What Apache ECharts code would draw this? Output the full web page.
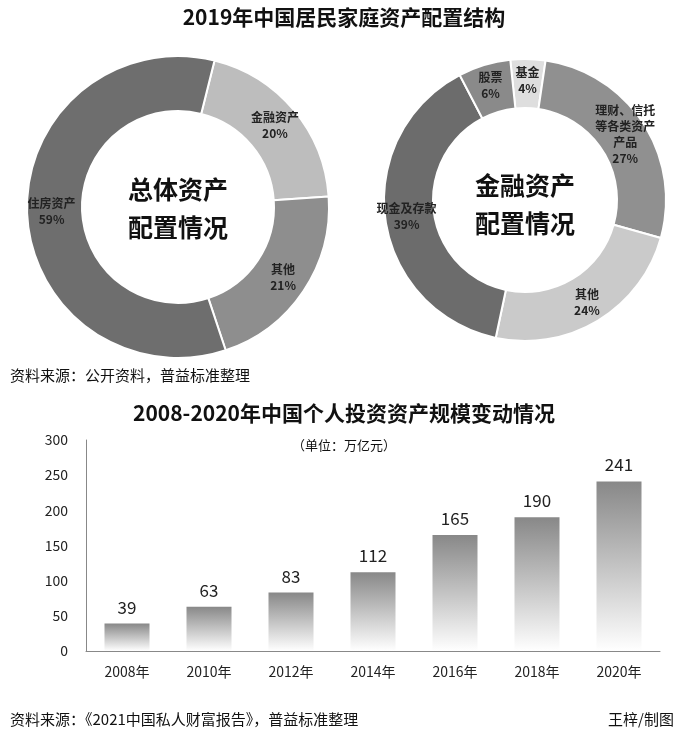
<!DOCTYPE html>
<html><head><meta charset="utf-8">
<script src="https://cdn.jsdelivr.net/npm/echarts@6/dist/echarts.min.js"></script>
<style>html,body{margin:0;padding:0;background:#fff}#c{width:688px;height:741px}</style>
</head><body><div id="c"></div>
<script>
var totalNames = ['金融资产', '其他', '住房资产'];
var totalValues = [20, 21, 59];
var totalColors = ['#bdbdbd', '#8e8e8e', '#6e6e6e'];
var finNames = ['基金', '理财、信托\n等各类资产\n产品', '其他', '现金及存款', '股票'];
var finValues = [4, 27, 24, 39, 6];
var finColors = ['#dedede', '#909090', '#cacaca', '#6c6c6c', '#8a8a8a'];
var years = ['2008年', '2010年', '2012年', '2014年', '2016年', '2018年', '2020年'];
var scale = [39, 63, 83, 112, 165, 190, 241];

var F = '"Noto Sans CJK SC", sans-serif';
function pieData(names, vals, cols) {
    return names.map(function (n, i) {
        return { name: n, value: vals[i], itemStyle: { color: cols[i] } };
    });
}
var myChart = echarts.init(document.getElementById('c'));
var lbl = {
    position: 'inside', color: '#222', fontSize: 12, fontWeight: 'bold', fontFamily: F,
    lineHeight: 16, formatter: '{b}\n{c}%'
};
option = {
    animation: false,
    textStyle: { fontFamily: F },
    title: [
        { text: '2019年中国居民家庭资产配置结构', left: 'center', top: 2,
          textStyle: { fontSize: 21, fontWeight: 'bold', color: '#111', fontFamily: F } },
        { text: '2008-2020年中国个人投资资产规模变动情况', left: 'center', top: 398,
          textStyle: { fontSize: 21, fontWeight: 'bold', color: '#111', fontFamily: F } },
        { text: '（单位：万亿元）', left: 'center', top: 434,
          textStyle: { fontSize: 13, fontWeight: 'normal', color: '#111', fontFamily: F } }
    ],
    graphic: [
        { type: 'text', left: 10, top: 368, style: { text: '资料来源：公开资料，普益标准整理', fill: '#111', font: '15px ' + F } },
        { type: 'text', left: 10, top: 712, style: { text: '资料来源：《2021中国私人财富报告》，普益标准整理', fill: '#111', font: '15px ' + F } },
        { type: 'text', right: 14, top: 712, style: { text: '王梓/制图', fill: '#111', font: '15px ' + F } },
        { type: 'text', left: 128, top: 170, style: { text: '总体资产\n配置情况', fill: '#111', font: 'bold 25px ' + F, lineHeight: 38 } },
        { type: 'text', left: 475, top: 166, style: { text: '金融资产\n配置情况', fill: '#111', font: 'bold 25px ' + F, lineHeight: 38 } }
    ],
    grid: { left: 86, right: 28, top: 440, bottom: 90 },
    xAxis: {
        type: 'category', data: years,
        axisLine: { lineStyle: { color: '#888' } }, axisTick: { show: false },
        axisLabel: { color: '#222', fontSize: 14, margin: 14 }
    },
    yAxis: {
        type: 'value', min: 0, max: 300, interval: 50,
        axisLine: { show: true, lineStyle: { color: '#888' } }, axisTick: { show: false },
        splitLine: { show: false },
        axisLabel: { color: '#222', fontSize: 14, margin: 18 }
    },
    series: [
        {
            type: 'pie', center: [178, 207], radius: [96, 151], startAngle: 76,
            clockwise: true, label: lbl, labelLine: { show: false },
            itemStyle: { borderColor: '#fff', borderWidth: 2 },
            data: pieData(totalNames, totalValues, totalColors)
        },
        {
            type: 'pie', center: [525, 200], radius: [92, 141], startAngle: 96,
            clockwise: true, label: lbl, labelLine: { show: false },
            itemStyle: { borderColor: '#fff', borderWidth: 2 },
            data: pieData(finNames, finValues, finColors)
        },
        {
            type: 'bar', data: scale, barWidth: 45,
            itemStyle: {
                color: new echarts.graphic.LinearGradient(0, 0, 0, 1, [
                    { offset: 0, color: '#888' }, { offset: 1, color: '#fff' }
                ])
            },
            label: { show: true, position: 'top', color: '#222', fontSize: 17, distance: 8 }
        }
    ]
};
myChart.setOption(option);
</script></body></html>
